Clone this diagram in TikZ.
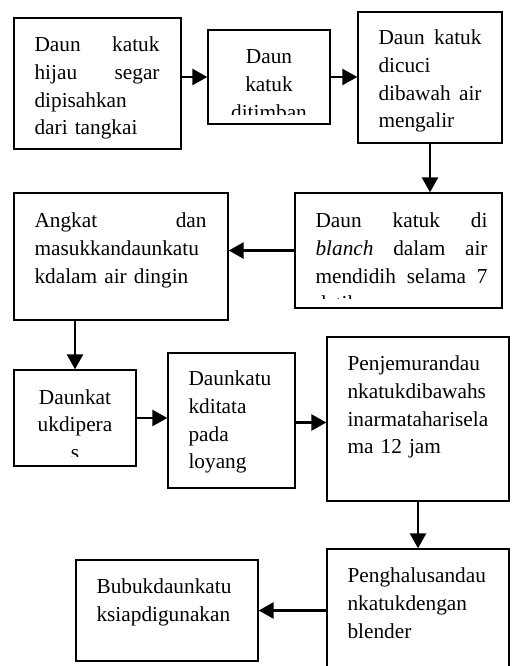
\documentclass[tikz,border=0pt]{standalone}
\usepackage{fontspec}
\setmainfont{Liberation Serif}
\usetikzlibrary{arrows.meta}

\begin{document}
\begin{tikzpicture}[x=1pt,y=-1pt,
		box/.style={draw, line width=1.3pt, inner sep=0pt},
		txt/.style={inner sep=0pt, font=\fontsize{21.3}{27.6}\selectfont},
		arr/.style={line width=2.5pt, -{Triangle[length=15pt,width=16pt]}}]
				\clip (0,0) rectangle (512,666);
				
				% kotak baris atas
				\node[box, minimum width=167pt, minimum height=131pt] (b1) at (97.5,83.5) {};
				\node[box, minimum width=122pt, minimum height=94pt] (b2) at (269,77) {};
				\node[box, minimum width=144pt, minimum height=131pt] (b3) at (430,77.5) {};
				
				\node[txt, text width=125pt, align=left, anchor=base west] (t1) at ([shift={(21,34.5)}]b1.north west)
				{Daun\hfill katuk\\hijau\hfill segar\\dipisahkan\\dari tangkai};
				\begin{scope}
					\clip ([yshift=10.5pt]b2.south west) rectangle (b2.north east);
					\node[txt, text width=80pt, align=center, anchor=base] (t2) at ([shift={(0,34.5)}]b2.north)
					{Daun\\katuk\\ditimban};
				\end{scope}
				\node[txt, text width=103pt, align=left, anchor=base west] (t3) at ([shift={(21,33.5)}]b3.north west)
				{Daun\hfill katuk\\dicuci\\dibawah\hfill air\\mengalir};
				
				% baris kedua
				\node[box, minimum width=207pt, minimum height=115pt] (b4) at (398.5,250.5) {};
				\node[box, minimum width=214pt, minimum height=127pt] (b5) at (121,256.5) {};
				
				\begin{scope}
					\clip ([yshift=10.5pt]b4.south west) rectangle (b4.north east);
					\node[txt, text width=172pt, align=left, anchor=base west] (t4) at ([shift={(21,35.5)}]b4.north west)
					{Daun\hfill katuk\hfill di\\\textit{blanch}\hfill dalam\hfill air\\mendidih\hfill selama\hfill 7\\detik};
				\end{scope}
				\node[txt, text width=172pt, align=left, anchor=base west] (t5) at ([shift={(21,35.5)}]b5.north west)
				{Angkat\hfill dan\\masukkandaunkatu\\kdalam air dingin};
				
				% baris ketiga
				\node[box, minimum width=122pt, minimum height=96pt] (b6) at (75,418) {};
				\node[box, minimum width=127pt, minimum height=135pt] (b7) at (231.5,420.5) {};
				\node[box, minimum width=182pt, minimum height=164pt] (b8) at (418,419) {};
				
				\begin{scope}
					\clip ([yshift=10.5pt]b6.south west) rectangle (b6.north east);
					\node[txt, text width=80pt, align=center, anchor=base] (t6) at ([shift={(0,35)}]b6.north)
					{Daunkat\\ukdipera\\s};
				\end{scope}
				\node[txt, text width=85pt, align=left, anchor=base west] (t7) at ([shift={(21,33.5)}]b7.north west)
				{Daunkatu\\kditata\\pada\\loyang};
				\node[txt, text width=140pt, align=left, anchor=base west] (t8) at ([shift={(21,34.5)}]b8.north west)
				{Penjemurandau\\nkatukdibawahs\\inarmataharisela\\ma 12 jam};
				
				% baris bawah
				\node[box, minimum width=182pt, minimum height=151pt] (b9) at (418,624.5) {};
				\node[box, minimum width=182pt, minimum height=101pt] (b10) at (167,610.5) {};
				
				\node[txt, text width=140pt, align=left, anchor=base west] (t9) at ([shift={(21,34.5)}]b9.north west)
				{Penghalusandau\\nkatukdengan\\blender};
				\node[txt, text width=140pt, align=left, anchor=base west] (t10) at ([shift={(21,34.5)}]b10.north west)
				{Bubukdaunkatu\\ksiapdigunakan};
				
				% panah
				\draw[arr] (b1.east |- b2.west) -- (b2.west);
				\draw[arr] (b2.east) -- (b2.east -| b3.west);
				\draw[arr] (b3.south) -- (b3.south |- b4.north);
				\draw[arr] (b4.west) -- (b4.west -| b5.east);
				\draw[arr] (b6.north |- b5.south) -- (b6.north);
				\draw[arr] (b6.east) -- (b6.east -| b7.west);
				\draw[arr] ([yshift=-2pt]b7.east) -- ([yshift=-2pt]b7.east -| b8.west);
				\draw[arr] (b8.south) -- (b9.north);
				\draw[arr] (b10.east -| b9.west) -- (b10.east);
			\end{tikzpicture}
\end{document}
